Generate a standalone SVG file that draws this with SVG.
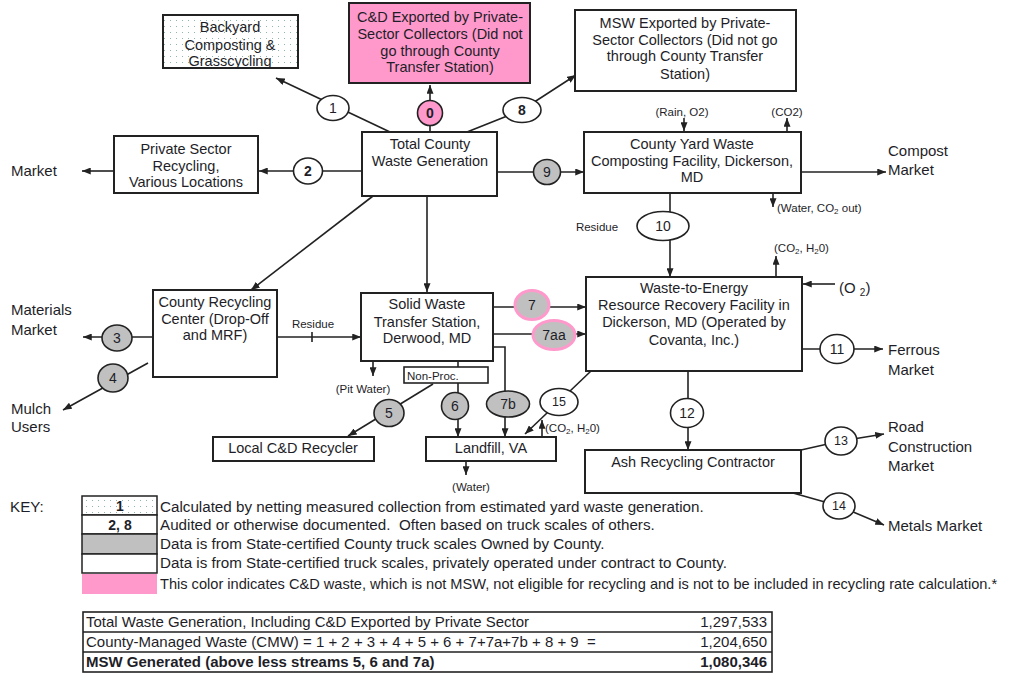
<svg xmlns="http://www.w3.org/2000/svg" width="1027" height="677" viewBox="0 0 1027 677">
<defs>
<style>
.box{fill:#fff;stroke:#222;stroke-width:2}
.ln{stroke:#222;stroke-width:1.6;fill:none}
.a{marker-end:url(#ah)}
text{font-family:"Liberation Sans",Arial,sans-serif;fill:#1e1e28}
.t{font-size:14.5px;text-anchor:middle}
.lbl{font-size:15px}
.sm{font-size:11.5px}
.num{font-size:14px;text-anchor:middle}
.n2{font-size:12.5px;text-anchor:middle}
.b{font-weight:bold}
.ov{fill:#fff;stroke:#222;stroke-width:1.6}
.gr{fill:#c0c0c0}
.pk{fill:#ff99cc}
.pst{fill:#c0c0c0;stroke:#ff99cc;stroke-width:3}
.key{font-size:15.2px}
.kc{font-size:14px;font-weight:bold;text-anchor:middle}
.tb{font-size:15px}
</style>
<marker id="ah" viewBox="0 0 10 8" refX="10" refY="4" markerWidth="9" markerHeight="7" markerUnits="userSpaceOnUse" orient="auto"><path d="M0,0 L10,4 L0,8 z" fill="#222"/></marker>
<pattern id="dots" width="6" height="6" patternUnits="userSpaceOnUse"><rect width="6" height="6" fill="#fff"/><rect x="2" y="2" width="1" height="1" fill="#8fb5ad"/></pattern>
</defs>
<rect width="1027" height="677" fill="#fff"/>

<g id="connectors">
<path class="ln a" d="M390,132 L276,78"/>
<path class="ln a" d="M430,132 V85"/>
<path class="ln a" d="M467,132 L522,110 L576,75"/>
<path class="ln a" d="M362,171 H259"/>
<path class="ln a" d="M114,171 H82"/>
<path class="ln a" d="M497,172 H584"/>
<path class="ln a" d="M801,172 H886"/>
<path class="ln a" d="M684,118 V131"/>
<path class="ln a" d="M787,132 V118"/>
<path class="ln a" d="M773,193 V207"/>
<path class="ln a" d="M670,193 V277"/>
<path class="ln a" d="M776,277 V256"/>
<path class="ln a" d="M835,284 H803"/>
<path class="ln a" d="M802,349 H883"/>
<path class="ln a" d="M688,371 V450"/>
<path class="ln a" d="M801,450 L841,441 L884,434"/>
<path class="ln a" d="M793,493 L839,506 L884,525"/>
<path class="ln a" d="M373,196 L251,290"/>
<path class="ln a" d="M427,196 V292"/>
<path class="ln a" d="M157,337 H83"/>
<path class="ln a" d="M148,363 L63,410"/>
<path class="ln a" d="M277,337 H361"/>
<path class="ln" d="M312,332 V342"/>
<path class="ln a" d="M493,307 H586"/>
<path class="ln a" d="M493,334 H586"/>
<path class="ln a" d="M373,361 V376"/>
<path class="ln" d="M458,361 V367"/>
<path class="ln a" d="M458,383 V437"/>
<path class="ln a" d="M433,384 L348,436"/>
<path class="ln a" d="M493,347 H505 V437"/>
<path class="ln a" d="M591,371 L525,434"/>
<path class="ln a" d="M542,437 V420"/>
<path class="ln a" d="M466,461 V475"/>
</g>

<g id="backyard">
<rect x="163" y="15" width="135" height="53" fill="url(#dots)" stroke="#222" stroke-width="2"/>
<text class="t" x="230" y="32">Backyard</text>
<text class="t" x="230" y="50">Composting &amp;</text>
<text class="t" x="230" y="66">Grasscycling</text>
</g>
<g id="cd-exported">
<rect x="349" y="3" width="181" height="80" fill="#ff99cc" stroke="#222" stroke-width="2"/>
<text class="t" x="440" y="22">C&amp;D Exported by Private-</text>
<text class="t" x="440" y="39">Sector Collectors (Did not</text>
<text class="t" x="440" y="56">go through County</text>
<text class="t" x="440" y="72">Transfer Station)</text>
</g>
<g id="msw-exported">
<rect class="box" x="575" y="10" width="221" height="81"/>
<text class="t" x="685" y="28">MSW Exported by Private-</text>
<text class="t" x="685" y="45">Sector Collectors (Did not go</text>
<text class="t" x="685" y="61">through County Transfer</text>
<text class="t" x="685" y="79">Station)</text>
</g>
<g id="total">
<rect class="box" x="362" y="132" width="135" height="64"/>
<text class="t" x="430" y="149">Total County</text>
<text class="t" x="430" y="166">Waste Generation</text>
</g>
<g id="private-sector">
<rect class="box" x="114" y="136" width="144" height="57"/>
<text class="t" x="186" y="154">Private Sector</text>
<text class="t" x="186" y="171">Recycling,</text>
<text class="t" x="186" y="187">Various Locations</text>
</g>
<g id="yard-waste">
<rect class="box" x="584" y="132" width="217" height="61"/>
<text class="t" x="692" y="149">County Yard Waste</text>
<text class="t" x="692" y="166">Composting Facility, Dickerson,</text>
<text class="t" x="692" y="182">MD</text>
</g>
<g id="wte">
<rect class="box" x="586" y="277" width="216" height="94"/>
<text class="t" x="694" y="293">Waste-to-Energy</text>
<text class="t" x="694" y="310">Resource Recovery Facility in</text>
<text class="t" x="694" y="327">Dickerson, MD (Operated by</text>
<text class="t" x="694" y="345">Covanta, Inc.)</text>
</g>
<g id="recycling-center">
<rect class="box" x="153" y="290" width="124" height="87"/>
<text class="t" x="215" y="307">County Recycling</text>
<text class="t" x="215" y="324">Center (Drop-Off</text>
<text class="t" x="215" y="340">and MRF)</text>
</g>
<g id="transfer-station">
<rect class="box" x="361" y="293" width="132" height="68"/>
<text class="t" x="427" y="309">Solid Waste</text>
<text class="t" x="427" y="327">Transfer Station,</text>
<text class="t" x="427" y="343">Derwood, MD</text>
</g>
<g id="non-proc">
<rect x="404" y="367" width="84" height="16" fill="#fff" stroke="#222" stroke-width="1.6"/>
<text class="sm" x="407" y="380">Non-Proc.</text>
</g>
<g id="local-cd">
<rect class="box" x="213" y="437" width="161" height="24"/>
<text class="t" x="293" y="453">Local C&amp;D Recycler</text>
</g>
<g id="landfill">
<rect class="box" x="426" y="437" width="130" height="24"/>
<text class="t" x="491" y="453">Landfill, VA</text>
</g>
<g id="ash">
<rect class="box" x="585" y="450" width="216" height="43"/>
<text class="t" x="693" y="467">Ash Recycling Contractor</text>
</g>

<g id="e1"><ellipse class="ov" cx="333" cy="108" rx="16" ry="12.5"/><text class="num" x="333" y="113">1</text></g>
<g id="e0"><ellipse class="ov pk" cx="430" cy="113" rx="12.5" ry="12.5"/><text class="num b" x="430" y="118">0</text></g>
<g id="e8"><ellipse class="ov" cx="522" cy="110" rx="19" ry="12.5"/><text class="num b" x="522" y="115">8</text></g>
<g id="e2"><ellipse class="ov" cx="308" cy="171" rx="14.5" ry="13"/><text class="num b" x="308" y="176">2</text></g>
<g id="e9"><ellipse class="ov gr" cx="547" cy="172" rx="13.5" ry="12.5"/><text class="num" x="547" y="177">9</text></g>
<g id="e10"><ellipse class="ov" cx="663" cy="226" rx="26" ry="14.5"/><text class="num" x="663" y="231">10</text></g>
<g id="e7"><ellipse class="pst" cx="532" cy="305" rx="17" ry="14.5"/><text class="num" x="532" y="310">7</text></g>
<g id="e7aa"><ellipse class="pst" cx="554" cy="335" rx="21" ry="14.5"/><text class="num" x="554" y="340">7aa</text></g>
<g id="e3"><ellipse class="ov gr" cx="117" cy="338" rx="15" ry="13"/><text class="num" x="117" y="343">3</text></g>
<g id="e4"><ellipse class="ov gr" cx="113" cy="378" rx="15" ry="14"/><text class="num" x="113" y="383">4</text></g>
<g id="e5"><ellipse class="ov gr" cx="389" cy="413" rx="15" ry="13.5"/><text class="num" x="389" y="418">5</text></g>
<g id="e6"><ellipse class="ov gr" cx="455" cy="406" rx="13.5" ry="13.5"/><text class="num" x="455" y="411">6</text></g>
<g id="e7b"><ellipse class="ov gr" cx="508" cy="404" rx="21.5" ry="13"/><text class="num" x="508" y="409">7b</text></g>
<g id="e15"><ellipse class="ov" cx="559" cy="402" rx="19" ry="13.5"/><text class="n2" x="559" y="406">15</text></g>
<g id="e11"><ellipse class="ov" cx="837" cy="349" rx="17" ry="14.5"/><text class="num" x="837" y="354">11</text></g>
<g id="e12"><ellipse class="ov" cx="687" cy="413" rx="16.5" ry="14.5"/><text class="num" x="687" y="418">12</text></g>
<g id="e13"><ellipse class="ov" cx="841" cy="441" rx="16" ry="14"/><text class="n2" x="841" y="445">13</text></g>
<g id="e14"><ellipse class="ov" cx="839" cy="506" rx="16" ry="13"/><text class="n2" x="839" y="510">14</text></g>

<g id="labels">
<text class="lbl" x="11" y="176">Market</text>
<text class="lbl" x="11" y="315">Materials</text>
<text class="lbl" x="11" y="335">Market</text>
<text class="lbl" x="11" y="414">Mulch</text>
<text class="lbl" x="11" y="432">Users</text>
<text class="lbl" x="888" y="156">Compost</text>
<text class="lbl" x="888" y="175">Market</text>
<text class="lbl" x="888" y="355">Ferrous</text>
<text class="lbl" x="888" y="375">Market</text>
<text class="lbl" x="888" y="432">Road</text>
<text class="lbl" x="888" y="452">Construction</text>
<text class="lbl" x="888" y="471">Market</text>
<text class="lbl" x="888" y="531">Metals Market</text>
<text class="sm" x="682" y="116" text-anchor="middle">(Rain, O2)</text>
<text class="sm" x="787" y="116" text-anchor="middle">(CO2)</text>
<text class="sm" x="777" y="212">(Water, CO<tspan font-size="8" dy="2">2</tspan><tspan dy="-2"> out)</tspan></text>
<text class="sm" x="597" y="231" text-anchor="middle">Residue</text>
<text class="sm" x="774" y="252">(CO<tspan font-size="8" dy="2">2</tspan><tspan dy="-2">, H</tspan><tspan font-size="8" dy="2">2</tspan><tspan dy="-2">0)</tspan></text>
<text class="lbl" x="839" y="293">(O <tspan font-size="10" dy="3">2</tspan><tspan dy="-3">)</tspan></text>
<text class="sm" x="313" y="328" text-anchor="middle">Residue</text>
<text class="sm" x="363" y="393" text-anchor="middle">(Pit Water)</text>
<text class="sm" x="545" y="432">(CO<tspan font-size="8" dy="2">2</tspan><tspan dy="-2">, H</tspan><tspan font-size="8" dy="2">2</tspan><tspan dy="-2">0)</tspan></text>
<text class="sm" x="471" y="491" text-anchor="middle">(Water)</text>
</g>

<g id="key">
<text class="key" x="10" y="512">KEY:</text>
<rect x="82" y="496" width="75" height="19" fill="url(#dots)" stroke="#222" stroke-width="1.5"/>
<rect x="82" y="515" width="75" height="19" fill="#fff" stroke="#222" stroke-width="1.5"/>
<rect x="82" y="534" width="75" height="20" fill="#c0c0c0" stroke="#222" stroke-width="1.5"/>
<rect x="82" y="554" width="75" height="19" fill="#fff" stroke="#222" stroke-width="1.5"/>
<rect x="82" y="574" width="75" height="20" fill="#ff99cc"/>
<text class="kc" x="120" y="511">1</text>
<text class="kc" x="120" y="530">2, 8</text>
<text class="key" x="160" y="512">Calculated by netting measured collection from estimated yard waste generation.</text>
<text class="key" x="160" y="530" xml:space="preserve">Audited or otherwise documented.  Often based on truck scales of others.</text>
<text class="key" x="160" y="549">Data is from State-certified County truck scales Owned by County.</text>
<text class="key" x="160" y="568">Data is from State-certified truck scales, privately operated under contract to County.</text>
<text x="160" y="589" style="font-size:14.6px">This color indicates C&amp;D waste, which is not MSW, not eligible for recycling and is not to be included in recycling rate calculation.*</text>
</g>

<g id="table">
<rect x="83" y="612" width="689" height="60" fill="#fff" stroke="#222" stroke-width="1.6"/>
<path d="M83,632 H772 M83,652 H772" stroke="#222" stroke-width="1.6"/>
<text class="tb" x="86" y="627">Total Waste Generation, Including C&amp;D Exported by Private Sector</text>
<text class="tb" x="767" y="627" text-anchor="end">1,297,533</text>
<text class="tb" x="86" y="647" xml:space="preserve">County-Managed Waste (CMW) = 1 + 2 + 3 + 4 + 5 + 6 + 7+7a+7b + 8 + 9  =</text>
<text class="tb" x="767" y="647" text-anchor="end">1,204,650</text>
<text class="tb b" x="86" y="667">MSW Generated (above less streams 5, 6 and 7a)</text>
<text class="tb b" x="767" y="667" text-anchor="end">1,080,346</text>
</g>
</svg>
